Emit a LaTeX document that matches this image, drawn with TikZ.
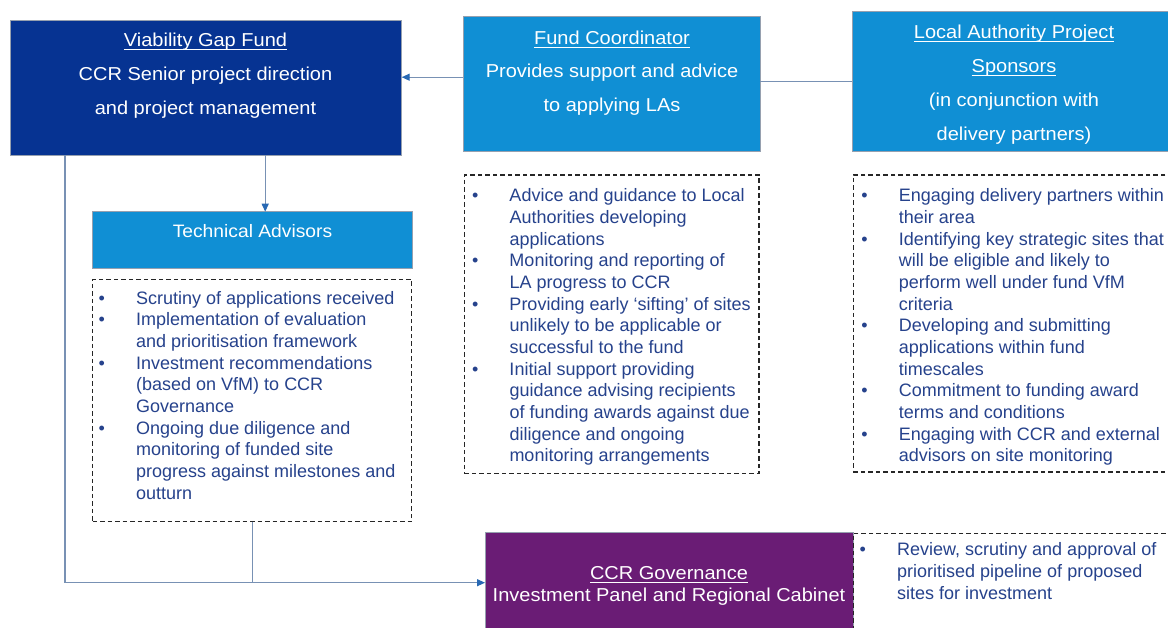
\documentclass[tikz,border=0pt]{standalone}
\usepackage{fontspec}
\setmainfont{Liberation Sans}
\newfontfamily\hf[FakeStretch=1.07]{Liberation Sans}
\usetikzlibrary{arrows.meta}
\definecolor{vgfblue}{RGB}{6,51,146}
\definecolor{lightblue}{RGB}{16,143,212}
\definecolor{ccrpurple}{RGB}{106,28,117}
\definecolor{listblue}{RGB}{38,66,140}
\definecolor{connline}{RGB}{120,145,180}
\definecolor{arrowblue}{RGB}{40,105,180}
\definecolor{boxedge}{RGB}{150,160,175}
\newcommand\ulx[1]{\setbox0\hbox{#1}\rlap{\rule[-3.2pt]{\wd0}{0.9pt}}\box0}
\newcommand\bu{\makebox[37.5pt][l]{•}}
\newcommand\ind{\hspace*{37.5pt}}
\begin{document}
\begin{tikzpicture}[x=1pt,y=-1pt,
  box/.style={anchor=north west, inner sep=0pt, outer sep=0pt, draw=boxedge, line width=0.6pt},
  dbox/.style={anchor=north west, inner sep=0pt, outer sep=0pt, draw=black!85, line width=1.5pt, dash pattern=on 4.5pt off 3pt},
  head/.style={anchor=base, inner sep=0pt, align=center, text=white},
  list/.style={anchor=base west, inner sep=0pt, align=left, text=listblue, font=\fontsize{18}{21.7}\selectfont},
  conn/.style={draw=connline, line width=1.2pt},
  arr/.style={conn, -{Triangle[length=8pt,width=7pt,color=arrowblue]}}]
\clip (0,0) rectangle (1168,628);
\fill[white] (0,0) rectangle (1168,628);
% boxes
\node[box, fill=vgfblue, minimum width=391.7pt, minimum height=135pt] (vgf) at (10,20) {};
\node[box, fill=lightblue, minimum width=296.7pt, minimum height=135pt] (fc) at (463.3,16.7) {};
\node[box, fill=lightblue, minimum width=325pt, minimum height=140pt] (la) at (852.3,11.7) {};
\node[box, fill=lightblue, minimum width=320pt, minimum height=56.6pt] (ta) at (92.5,211.7) {};
\node[dbox, minimum width=319pt, minimum height=242.4pt] (tal) at (92.7,279.3) {};
\node[dbox, minimum width=294.7pt, minimum height=298.3pt] (fcl) at (464.3,175) {};
\node[dbox, minimum width=330pt, minimum height=297pt] (lal) at (853.3,175) {};
\node[box, fill=ccrpurple, minimum width=368.3pt, minimum height=100pt] (ccr) at (485,532.7) {};
\node[dbox, minimum width=330pt, minimum height=110pt] (ccrl) at (853.3,533.3) {};
% heading texts (anchor=base is the baseline of the last line)
\node[head, font=\hf\fontsize{18.7}{34}\selectfont] (vgft) at (205.5,115)
  {\ulx{Viability Gap Fund}\\CCR Senior project direction\\and project management};
\node[head, font=\hf\fontsize{18.7}{33.4}\selectfont] (fct) at (612,111.1)
  {\ulx{Fund Coordinator}\\Provides support and advice\\to applying LAs};
\node[head, font=\hf\fontsize{18.7}{33.7}\selectfont] (lat) at (1014,140.1)
  {\ulx{Local Authority Project}\\\ulx{Sponsors}\\(in conjunction with\\delivery partners)};
\node[head, font=\hf\fontsize{18}{22}\selectfont] (tat) at (252.5,237.3) {Technical Advisors};
\node[head, font=\hf\fontsize{18.7}{22.3}\selectfont] (ccrt) at (669,601.6)
  {\ulx{CCR Governance}\\Investment Panel and Regional Cabinet};
% lists
\node[list] (tatx) at (98.5,499.3) {\bu Scrutiny of applications received\\
\bu Implementation of evaluation\\
\ind and prioritisation framework\\
\bu Investment recommendations\\
\ind (based on VfM) to CCR\\
\ind Governance\\
\bu Ongoing due diligence and\\
\ind monitoring of funded site\\
\ind progress against milestones and\\
\ind outturn};
\node[list, font=\fontsize{18}{21.67}\selectfont] (fctx) at (471.8,461.7) {\bu Advice and guidance to Local\\
\ind Authorities developing\\
\ind applications\\
\bu Monitoring and reporting of\\
\ind LA progress to CCR\\
\bu Providing early ‘sifting’ of sites\\
\ind unlikely to be applicable or\\
\ind successful to the fund\\
\bu Initial support providing\\
\ind guidance advising recipients\\
\ind of funding awards against due\\
\ind diligence and ongoing\\
\ind monitoring arrangements};
\node[list, font=\fontsize{18}{21.67}\selectfont] (latx) at (861.1,461.7) {\bu Engaging delivery partners within\\
\ind their area\\
\bu Identifying key strategic sites that\\
\ind will be eligible and likely to\\
\ind perform well under fund VfM\\
\ind criteria\\
\bu Developing and submitting\\
\ind applications within fund\\
\ind timescales\\
\bu Commitment to funding award\\
\ind terms and conditions\\
\bu Engaging with CCR and external\\
\ind advisors on site monitoring};
\node[list, font=\fontsize{18}{21.8}\selectfont] (ccrtx) at (859.5,599.3) {\bu Review, scrutiny and approval of\\
\ind prioritised pipeline of proposed\\
\ind sites for investment};
% connectors
\coordinate (tatop) at ([xshift=12.7pt]ta.north);
\coordinate (vgfl) at ([xshift=55pt]vgf.south west);
\coordinate (fcw) at ([yshift=7pt]fc.west);
\draw[arr] (fcw) -- (fcw -| vgf.east);
\draw[conn] (la.west) -- (la.west -| fc.east);
\draw[arr] (tatop |- vgf.south) -- (tatop);
\draw[arr] (vgfl) |- (ccr.west);
\draw[conn] (tal.south) -- (tal.south |- ccr.west);
\end{tikzpicture}
\end{document}
